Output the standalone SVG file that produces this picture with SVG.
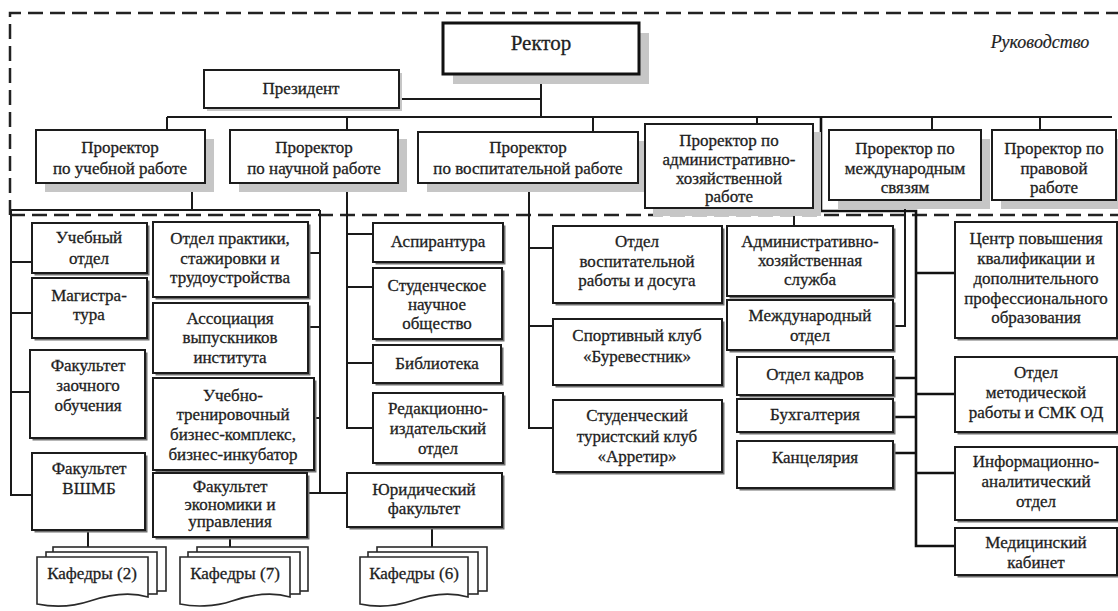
<svg xmlns="http://www.w3.org/2000/svg" width="1118" height="611" viewBox="0 0 1118 611">
  <style>
    .box{fill:#fff;stroke:#1c1c1c;stroke-width:2}
    .boxB{fill:#fff;stroke:#111;stroke-width:3}
    .sh{fill:#707070}
    .shL{fill:#c6c6c6}
    .t{font-family:"Liberation Serif","Times New Roman",serif;font-size:17px;fill:#1e1e1e;stroke:#1e1e1e;stroke-width:0.3;text-anchor:middle}
    .big{font-size:21px}
    .it{font-style:italic;font-size:18px;stroke-width:0.2}
    .ln{fill:none;stroke:#1a1a1a;stroke-width:2}
    .lnB{fill:none;stroke:#111;stroke-width:2.6}
    .dash{fill:none;stroke:#222;stroke-width:2.5;stroke-dasharray:15 7}
    .doc{fill:#fff;stroke:#2a2a2a;stroke-width:1.6}
  </style>

  <!-- management area boundary -->
  <g id="management-area">
    <path class="dash" d="M10,215 V13 H1118"/>
    <path class="dash" d="M10,215 H1118"/>
    <text class="t it" x="1040" y="48">Руководство</text>
  </g>

  <!-- connectors -->
  <g id="connectors">
    <path class="ln" d="M541,74 V117 M399,99 H541"/>
    <path class="ln" d="M167,117 H1112 M167,117 V130 M347,117 V130 M593,117 V132 M757,117 V124 M932,117 V130 M1040,117 V130"/>
    <!-- academic affairs -->
    <path class="ln" d="M192,183 V210 M11,210 H320 M11,210 V495 H32 M11,262 H32 M11,313 H32 M11,392 H30"/>
    <path class="ln" d="M320,210 V493 M308,253 H320 M308,327 H320 M314,418 H320 M307,493 H347"/>
    <!-- research -->
    <path class="ln" d="M347,183 V428 H373 M347,234 H373 M347,287 H373 M347,363 H373"/>
    <!-- educational work -->
    <path class="ln" d="M529,183 V428 H553 M529,248 H553 M529,326 H553"/>
    <!-- administration and international -->
    <path class="ln" d="M794,208 V226"/>
    <path class="ln" d="M905,200 V326 H893"/>
    <!-- units reporting to the rector -->
    <path class="lnB" d="M821,117 V211 H916 V546 H955 M916,273 H955 M916,394 H955 M916,473 H955 M893,378 H916 M893,417 H916 M893,453 H916"/>
    <!-- departments -->
    <path class="ln" d="M88,530 V547 M230,537 V547 M432,527 V547"/>
  </g>

  <!-- top management -->
  <g id="rector">
    <rect class="shL" x="453" y="33" width="196" height="51"/>
    <rect class="boxB" x="443" y="23" width="196" height="51"/>
    <text class="t big" x="541" y="50">Ректор</text>
  </g>
  <g id="president">
    <rect class="shL" x="207" y="73" width="195" height="38"/>
    <rect class="box" x="204" y="70" width="195" height="38"/>
    <text class="t" x="301" y="94">Президент</text>
  </g>
  <g id="vr-academic">
    <rect class="shL" x="45" y="139" width="169" height="53"/>
    <rect class="box" x="36" y="130" width="169" height="53"/>
    <text class="t" x="120" y="153">Проректор</text>
    <text class="t" x="120" y="174">по учебной работе</text>
  </g>
  <g id="vr-research">
    <rect class="shL" x="239" y="139" width="168" height="53"/>
    <rect class="box" x="230" y="130" width="168" height="53"/>
    <text class="t" x="314" y="153">Проректор</text>
    <text class="t" x="314" y="174">по научной работе</text>
  </g>
  <g id="vr-educational">
    <rect class="shL" x="427" y="141" width="220" height="51"/>
    <rect class="box" x="418" y="132" width="220" height="51"/>
    <text class="t" x="528" y="153">Проректор</text>
    <text class="t" x="528" y="174">по воспитательной работе</text>
  </g>
  <g id="vr-administrative">
    <rect class="shL" x="653" y="132" width="168" height="84"/>
    <rect class="box" x="645" y="124" width="168" height="84"/>
    <text class="t" x="729" y="146">Проректор по</text>
    <text class="t" x="729" y="165">административно-</text>
    <text class="t" x="729" y="184">хозяйственной</text>
    <text class="t" x="729" y="202">работе</text>
  </g>
  <g id="vr-international">
    <rect class="shL" x="838" y="139" width="152" height="70"/>
    <rect class="box" x="829" y="130" width="152" height="70"/>
    <text class="t" x="905" y="154">Проректор по</text>
    <text class="t" x="905" y="174">международным</text>
    <text class="t" x="905" y="193">связям</text>
  </g>
  <g id="vr-legal">
    <rect class="shL" x="1001" y="139" width="124" height="70"/>
    <rect class="box" x="992" y="130" width="124" height="70"/>
    <text class="t" x="1054" y="154">Проректор по</text>
    <text class="t" x="1054" y="174">правовой</text>
    <text class="t" x="1054" y="193">работе</text>
  </g>

  <!-- academic affairs units -->
  <g id="study-office">
    <rect class="sh" x="34.5" y="225.5" width="115" height="50"/>
    <rect class="box" x="32" y="223" width="115" height="50"/>
    <text class="t" x="89" y="243">Учебный</text>
    <text class="t" x="89" y="264">отдел</text>
  </g>
  <g id="masters">
    <rect class="sh" x="34.5" y="280.5" width="115" height="60"/>
    <rect class="box" x="32" y="278" width="115" height="60"/>
    <text class="t" x="89" y="301">Магистра-</text>
    <text class="t" x="89" y="320">тура</text>
  </g>
  <g id="extramural-faculty">
    <rect class="sh" x="32.5" y="352.5" width="115" height="88"/>
    <rect class="box" x="30" y="350" width="115" height="88"/>
    <text class="t" x="88" y="371">Факультет</text>
    <text class="t" x="88" y="391">заочного</text>
    <text class="t" x="88" y="411">обучения</text>
  </g>
  <g id="vshmb-faculty">
    <rect class="sh" x="34.5" y="455.5" width="113" height="77"/>
    <rect class="box" x="32" y="453" width="113" height="77"/>
    <text class="t" x="89" y="474">Факультет</text>
    <text class="t" x="89" y="494">ВШМБ</text>
  </g>
  <g id="practice-office">
    <rect class="sh" x="155.5" y="224.5" width="155" height="75"/>
    <rect class="box" x="153" y="222" width="155" height="75"/>
    <text class="t" x="230" y="244">Отдел практики,</text>
    <text class="t" x="230" y="264">стажировки и</text>
    <text class="t" x="230" y="283">трудоустройства</text>
  </g>
  <g id="alumni">
    <rect class="sh" x="155.5" y="305.5" width="155" height="70"/>
    <rect class="box" x="153" y="303" width="155" height="70"/>
    <text class="t" x="230" y="324">Ассоциация</text>
    <text class="t" x="230" y="343">выпускников</text>
    <text class="t" x="230" y="363">института</text>
  </g>
  <g id="business-complex">
    <rect class="sh" x="155.5" y="380.5" width="161" height="92"/>
    <rect class="box" x="153" y="378" width="161" height="92"/>
    <text class="t" x="233" y="401">Учебно-</text>
    <text class="t" x="233" y="420">тренировочный</text>
    <text class="t" x="233" y="440">бизнес-комплекс,</text>
    <text class="t" x="233" y="460">бизнес-инкубатор</text>
  </g>
  <g id="economics-faculty">
    <rect class="sh" x="155.5" y="475.5" width="154" height="64"/>
    <rect class="box" x="153" y="473" width="154" height="64"/>
    <text class="t" x="230" y="492">Факультет</text>
    <text class="t" x="230" y="510">экономики и</text>
    <text class="t" x="230" y="527">управления</text>
  </g>

  <!-- research units -->
  <g id="postgraduate">
    <rect class="sh" x="375.5" y="225.5" width="130" height="39"/>
    <rect class="box" x="373" y="223" width="130" height="39"/>
    <text class="t" x="438" y="247">Аспирантура</text>
  </g>
  <g id="student-society">
    <rect class="sh" x="375.5" y="270.5" width="129" height="71"/>
    <rect class="box" x="373" y="268" width="129" height="71"/>
    <text class="t" x="437" y="291">Студенческое</text>
    <text class="t" x="437" y="310">научное</text>
    <text class="t" x="437" y="329">общество</text>
  </g>
  <g id="library">
    <rect class="sh" x="375.5" y="347.5" width="128" height="38"/>
    <rect class="box" x="373" y="345" width="128" height="38"/>
    <text class="t" x="437" y="369">Библиотека</text>
  </g>
  <g id="publishing">
    <rect class="sh" x="375.5" y="395.5" width="130" height="70"/>
    <rect class="box" x="373" y="393" width="130" height="70"/>
    <text class="t" x="438" y="414">Редакционно-</text>
    <text class="t" x="438" y="434">издательский</text>
    <text class="t" x="438" y="454">отдел</text>
  </g>
  <g id="law-faculty">
    <rect class="sh" x="349.5" y="475.5" width="155" height="54"/>
    <rect class="box" x="347" y="473" width="155" height="54"/>
    <text class="t" x="424" y="495">Юридический</text>
    <text class="t" x="424" y="514">факультет</text>
  </g>

  <!-- educational work units -->
  <g id="leisure-office">
    <rect class="sh" x="555.5" y="228.5" width="169" height="77"/>
    <rect class="box" x="553" y="226" width="169" height="77"/>
    <text class="t" x="637" y="247">Отдел</text>
    <text class="t" x="637" y="267">воспитательной</text>
    <text class="t" x="637" y="286">работы и досуга</text>
  </g>
  <g id="sports-club">
    <rect class="sh" x="555.5" y="321.5" width="169" height="66"/>
    <rect class="box" x="553" y="319" width="169" height="66"/>
    <text class="t" x="637" y="341">Спортивный клуб</text>
    <text class="t" x="637" y="362">«Буревестник»</text>
  </g>
  <g id="tourist-club">
    <rect class="sh" x="555.5" y="402.5" width="169" height="72"/>
    <rect class="box" x="553" y="400" width="169" height="72"/>
    <text class="t" x="637" y="421">Студенческий</text>
    <text class="t" x="637" y="442">туристский клуб</text>
    <text class="t" x="637" y="462">«Арретир»</text>
  </g>

  <!-- administrative units -->
  <g id="admin-service">
    <rect class="sh" x="729.5" y="228.5" width="166" height="70"/>
    <rect class="box" x="727" y="226" width="166" height="70"/>
    <text class="t" x="810" y="247">Административно-</text>
    <text class="t" x="810" y="266">хозяйственная</text>
    <text class="t" x="810" y="285">служба</text>
  </g>
  <g id="international-office">
    <rect class="sh" x="729.5" y="302.5" width="166" height="50"/>
    <rect class="box" x="727" y="300" width="166" height="50"/>
    <text class="t" x="810" y="321">Международный</text>
    <text class="t" x="810" y="341">отдел</text>
  </g>
  <g id="hr">
    <rect class="sh" x="739.5" y="359.5" width="156" height="38"/>
    <rect class="box" x="737" y="357" width="156" height="38"/>
    <text class="t" x="815" y="380">Отдел кадров</text>
  </g>
  <g id="accounting">
    <rect class="sh" x="739.5" y="401.5" width="156" height="33"/>
    <rect class="box" x="737" y="399" width="156" height="33"/>
    <text class="t" x="815" y="420">Бухгалтерия</text>
  </g>
  <g id="chancellery">
    <rect class="sh" x="739.5" y="443.5" width="156" height="47"/>
    <rect class="box" x="737" y="441" width="156" height="47"/>
    <text class="t" x="815" y="463">Канцелярия</text>
  </g>

  <!-- units on the right -->
  <g id="training-center">
    <rect class="sh" x="957.5" y="224.5" width="162" height="116"/>
    <rect class="box" x="955" y="222" width="162" height="116"/>
    <text class="t" x="1036" y="244">Центр повышения</text>
    <text class="t" x="1036" y="264">квалификации и</text>
    <text class="t" x="1036" y="284">дополнительного</text>
    <text class="t" x="1036" y="304">профессионального</text>
    <text class="t" x="1036" y="323">образования</text>
  </g>
  <g id="methods-office">
    <rect class="sh" x="957.5" y="359.5" width="162" height="75"/>
    <rect class="box" x="955" y="357" width="162" height="75"/>
    <text class="t" x="1036" y="378">Отдел</text>
    <text class="t" x="1036" y="398">методической</text>
    <text class="t" x="1036" y="418">работы и СМК ОД</text>
  </g>
  <g id="analytics-office">
    <rect class="sh" x="957.5" y="449.5" width="162" height="73"/>
    <rect class="box" x="955" y="447" width="162" height="73"/>
    <text class="t" x="1036" y="467">Информационно-</text>
    <text class="t" x="1036" y="487">аналитический</text>
    <text class="t" x="1036" y="507">отдел</text>
  </g>
  <g id="medical">
    <rect class="sh" x="957.5" y="530.5" width="162" height="47"/>
    <rect class="box" x="955" y="528" width="162" height="47"/>
    <text class="t" x="1036" y="548">Медицинский</text>
    <text class="t" x="1036" y="568">кабинет</text>
  </g>

  <!-- departments (stacked documents) -->
  <g id="departments-vshmb">
    <rect class="doc" x="53" y="547" width="113" height="44"/>
    <rect class="doc" x="46" y="552" width="111" height="42"/>
    <path class="doc" d="M37,557 H148 V597 C128,591 108,595 90,601 C72,607 52,607 37,604 Z"/>
    <text class="t" x="92" y="579">Кафедры (2)</text>
  </g>
  <g id="departments-economics">
    <rect class="doc" x="197" y="547" width="111" height="44"/>
    <rect class="doc" x="188" y="552" width="112" height="42"/>
    <path class="doc" d="M180,557 H290 V597 C270,591 250,595 232,601 C214,607 194,607 180,604 Z"/>
    <text class="t" x="235" y="579">Кафедры (7)</text>
  </g>
  <g id="departments-law">
    <rect class="doc" x="377" y="547" width="110" height="44"/>
    <rect class="doc" x="368" y="552" width="110" height="42"/>
    <path class="doc" d="M360,557 H468 V597 C448,591 428,595 411,601 C393,607 374,607 360,604 Z"/>
    <text class="t" x="414" y="579">Кафедры (6)</text>
  </g>
</svg>
